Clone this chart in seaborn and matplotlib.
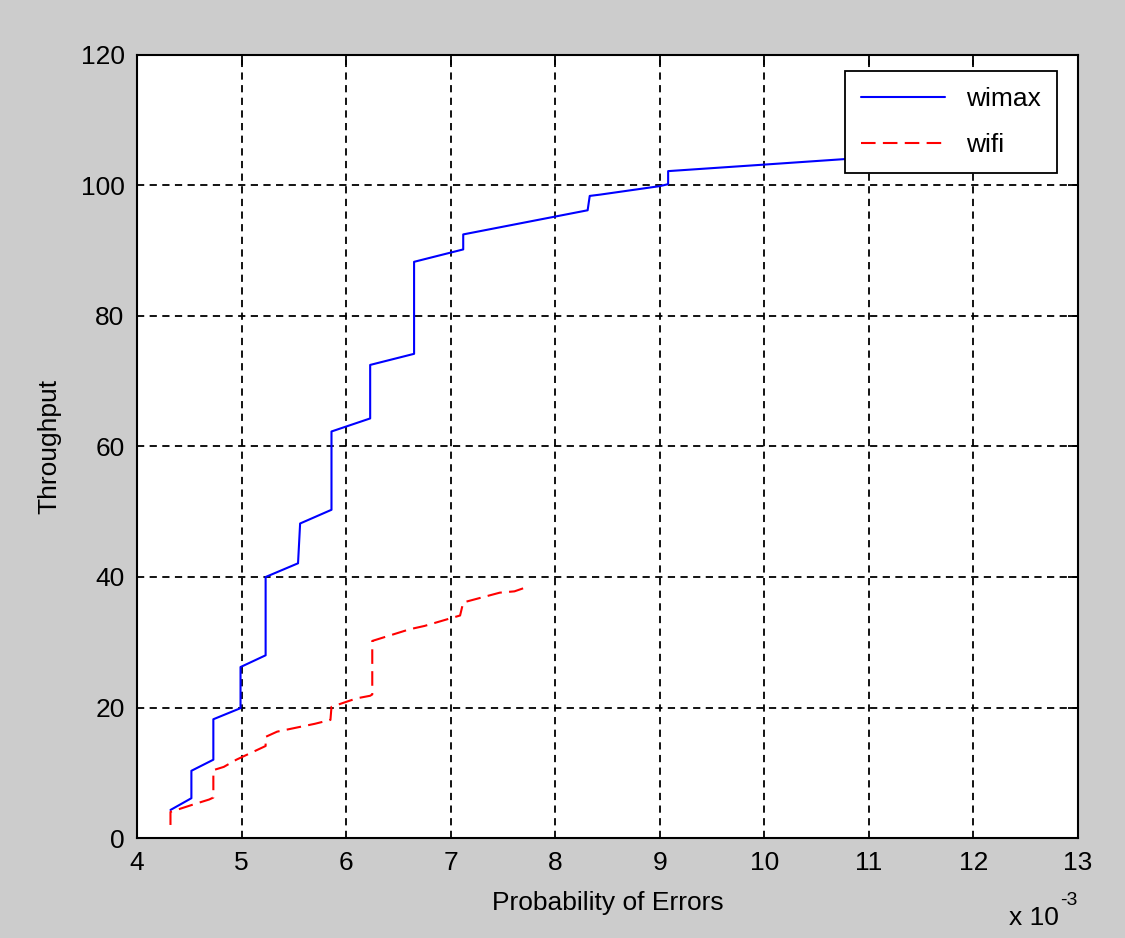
import pandas as pd
import matplotlib
matplotlib.use('Agg')
import matplotlib.pyplot as plt
import seaborn as sns

# probability of errors in units of 1e-3
wimax_x = [4.32, 4.52, 4.52, 4.73, 4.73, 4.99, 4.99, 5.23, 5.23, 5.54, 5.56,
           5.86, 5.86, 6.23, 6.23, 6.65, 6.65, 7.12, 7.12, 8.31, 8.33, 8.43,
           9.0, 9.08, 9.08, 10.0, 10.82, 11.0]
wimax_y = [4.3, 6.1, 10.3, 12.0, 18.2, 19.9, 26.2, 28.0, 40.0, 42.1, 48.2,
           50.3, 62.3, 64.3, 72.5, 74.2, 88.3, 90.2, 92.5, 96.2, 98.4, 98.6,
           99.9, 100.2, 102.2, 103.2, 104.1, 104.2]

wifi_x = [4.32, 4.32, 4.55, 4.69, 4.73, 4.73, 4.83, 4.95, 5.23, 5.23, 5.34,
          5.70, 5.85, 5.86, 6.10, 6.23, 6.25, 6.25, 6.61, 6.75, 7.09, 7.12,
          7.47, 7.61, 7.70]
wifi_y = [2.0, 4.0, 5.2, 5.9, 6.2, 10.4, 10.9, 12.0, 14.1, 15.5, 16.3,
          17.5, 18.1, 20.1, 21.4, 21.8, 22.0, 30.2, 32.0, 32.5, 34.1, 36.1,
          37.6, 37.8, 38.3]

xticks = list(range(4, 14))
yticks = list(range(0, 121, 20))

sns.set_style('white')
plt.rcParams['font.family'] = ['Liberation Sans', 'DejaVu Sans']
plt.rcParams['text.color'] = 'black'
plt.rcParams['axes.labelcolor'] = 'black'

fig = plt.figure(figsize=(11.25, 9.38), dpi=100, facecolor='#cccccc')
ax = fig.add_axes([0.1218, 0.1066, 0.8364, 0.8348])
ax.set_facecolor('white')

df_wimax = pd.DataFrame({'x': wimax_x, 'y': wimax_y})
df_wifi = pd.DataFrame({'x': wifi_x, 'y': wifi_y})
sns.lineplot(data=df_wimax, x='x', y='y', sort=False, estimator=None, ax=ax,
             color='#0000ff', lw=1.5, label='wimax', zorder=3)
sns.lineplot(data=df_wifi, x='x', y='y', sort=False, estimator=None, ax=ax,
             color='#ff0000', lw=1.5, label='wifi', zorder=3)
ax.lines[1].set_dashes((7, 3.5))

ax.set_xlim(4, 13)
ax.set_ylim(0, 120)
ax.set_xticks(xticks)
ax.set_yticks(yticks)
ax.grid(True, color='black', linestyle=(0, (4, 3)), lw=1.3)
ax.set_axisbelow(True)
ax.tick_params(direction='in', length=7, width=1.3, top=True, right=True,
               labelsize=19, pad=9, colors='black')
for s in ax.spines.values():
    s.set_visible(True)
    s.set_color('black')
    s.set_linewidth(1.5)

ax.set_xlabel('Probability of Errors', fontsize=19, labelpad=12)
ax.set_ylabel('Throughput', fontsize=19, labelpad=14)
fig.text(0.897, 0.009, 'x 10', fontsize=19, ha='left', va='bottom')
fig.text(0.942, 0.031, '-3', fontsize=14, ha='left', va='bottom')

leg = ax.legend(loc='upper right', bbox_to_anchor=(0.9777, 0.9796),
                borderaxespad=0, fontsize=19, handlelength=3.2,
                fancybox=False, framealpha=1, edgecolor='black',
                borderpad=0.6, labelspacing=0.85)
leg.get_frame().set_linewidth(1.3)
leg.set_zorder(5)

fig.savefig('out.png', dpi=100, facecolor=fig.get_facecolor())
